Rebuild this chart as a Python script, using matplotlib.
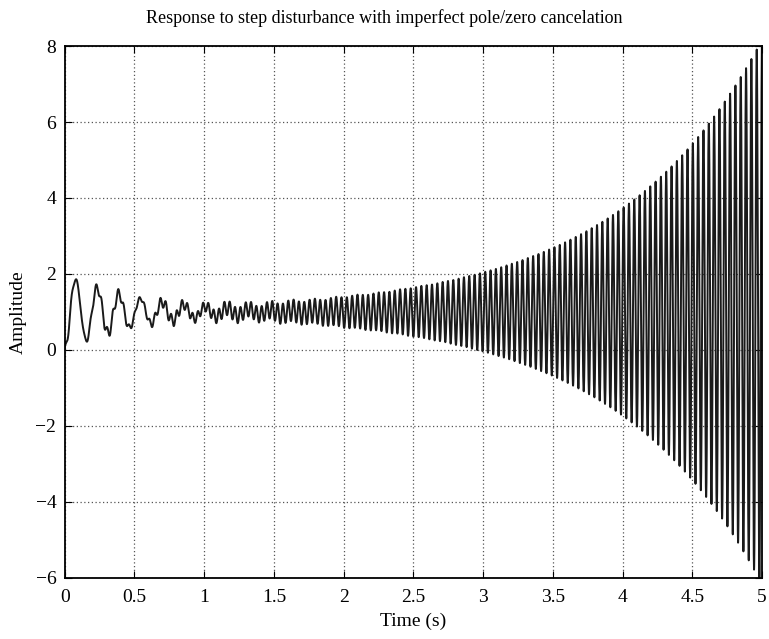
import numpy as np
import matplotlib
matplotlib.use("Agg")
import matplotlib.pyplot as plt

# values
t_end = 5.0
dc_level = 1.0

# slow decaying mode (early ringing)
slow_amp = [-1.0]
slow_decay = [1.9]          # 1/s
slow_omega = [40.5]         # rad/s

# fast decaying ripple seen before t = 1.5
ripple_amp = [0.11]
ripple_decay = [1.6]
ripple_omega = [150.0]

# unstable mode from the imperfect cancelation
grow_amp_at_4 = 2.73        # half peak-to-peak at t = 4 s
grow_rate = 0.965           # 1/s
grow_freq_hz = 26.2
last_peak_time = 4.962

x_ticks = [0, 0.5, 1, 1.5, 2, 2.5, 3, 3.5, 4, 4.5, 5]
y_ticks = [-6, -4, -2, 0, 2, 4, 6, 8]

plt.rcParams["font.family"] = ["Liberation Serif", "DejaVu Serif"]

t = np.linspace(0, t_end, 40001)
y = np.full_like(t, dc_level)
for a, s, w in zip(slow_amp, slow_decay, slow_omega):
    y += a * np.exp(-s * t) * (np.cos(w * t) + s / w * np.sin(w * t))
for a, s, w in zip(ripple_amp, ripple_decay, ripple_omega):
    y += a * np.exp(-s * t) * np.sin(w * t)
w2 = 2 * np.pi * grow_freq_hz
y += grow_amp_at_4 * np.exp(grow_rate * (t - 4)) * np.cos(w2 * (t - last_peak_time))

fig = plt.figure(figsize=(7.69, 6.39), dpi=100)
ax = fig.add_axes([0.0841, 0.0955, 0.9068, 0.8325])
ax.plot(t, y, color="#1a1a1a", linewidth=1.4)

ax.set_xlim(0, 5)
ax.set_ylim(-6, 8)
ax.set_xticks(x_ticks)
ax.set_xticklabels(["0", "0.5", "1", "1.5", "2", "2.5", "3", "3.5", "4", "4.5", "5"])
ax.set_yticks(y_ticks)
ax.grid(True, linestyle=(0, (1, 2)), color="#555555", linewidth=0.9)
ax.tick_params(direction="in", top=True, right=True, length=5, width=0.8,
               labelsize=14)
ax.tick_params(axis="x", pad=8)
ax.tick_params(axis="y", pad=6)
for sp in ax.spines.values():
    sp.set_linewidth(1.3)

# title is centred on the figure, not the axes
fig.text(0.5, 0.972, "Response to step disturbance with imperfect pole/zero cancelation",
         fontsize=13, ha="center", va="center")
ax.set_xlabel("Time (s)", fontsize=14, labelpad=5)
ax.set_ylabel("Amplitude", fontsize=14, labelpad=6)

fig.savefig("out.png", dpi=100)
